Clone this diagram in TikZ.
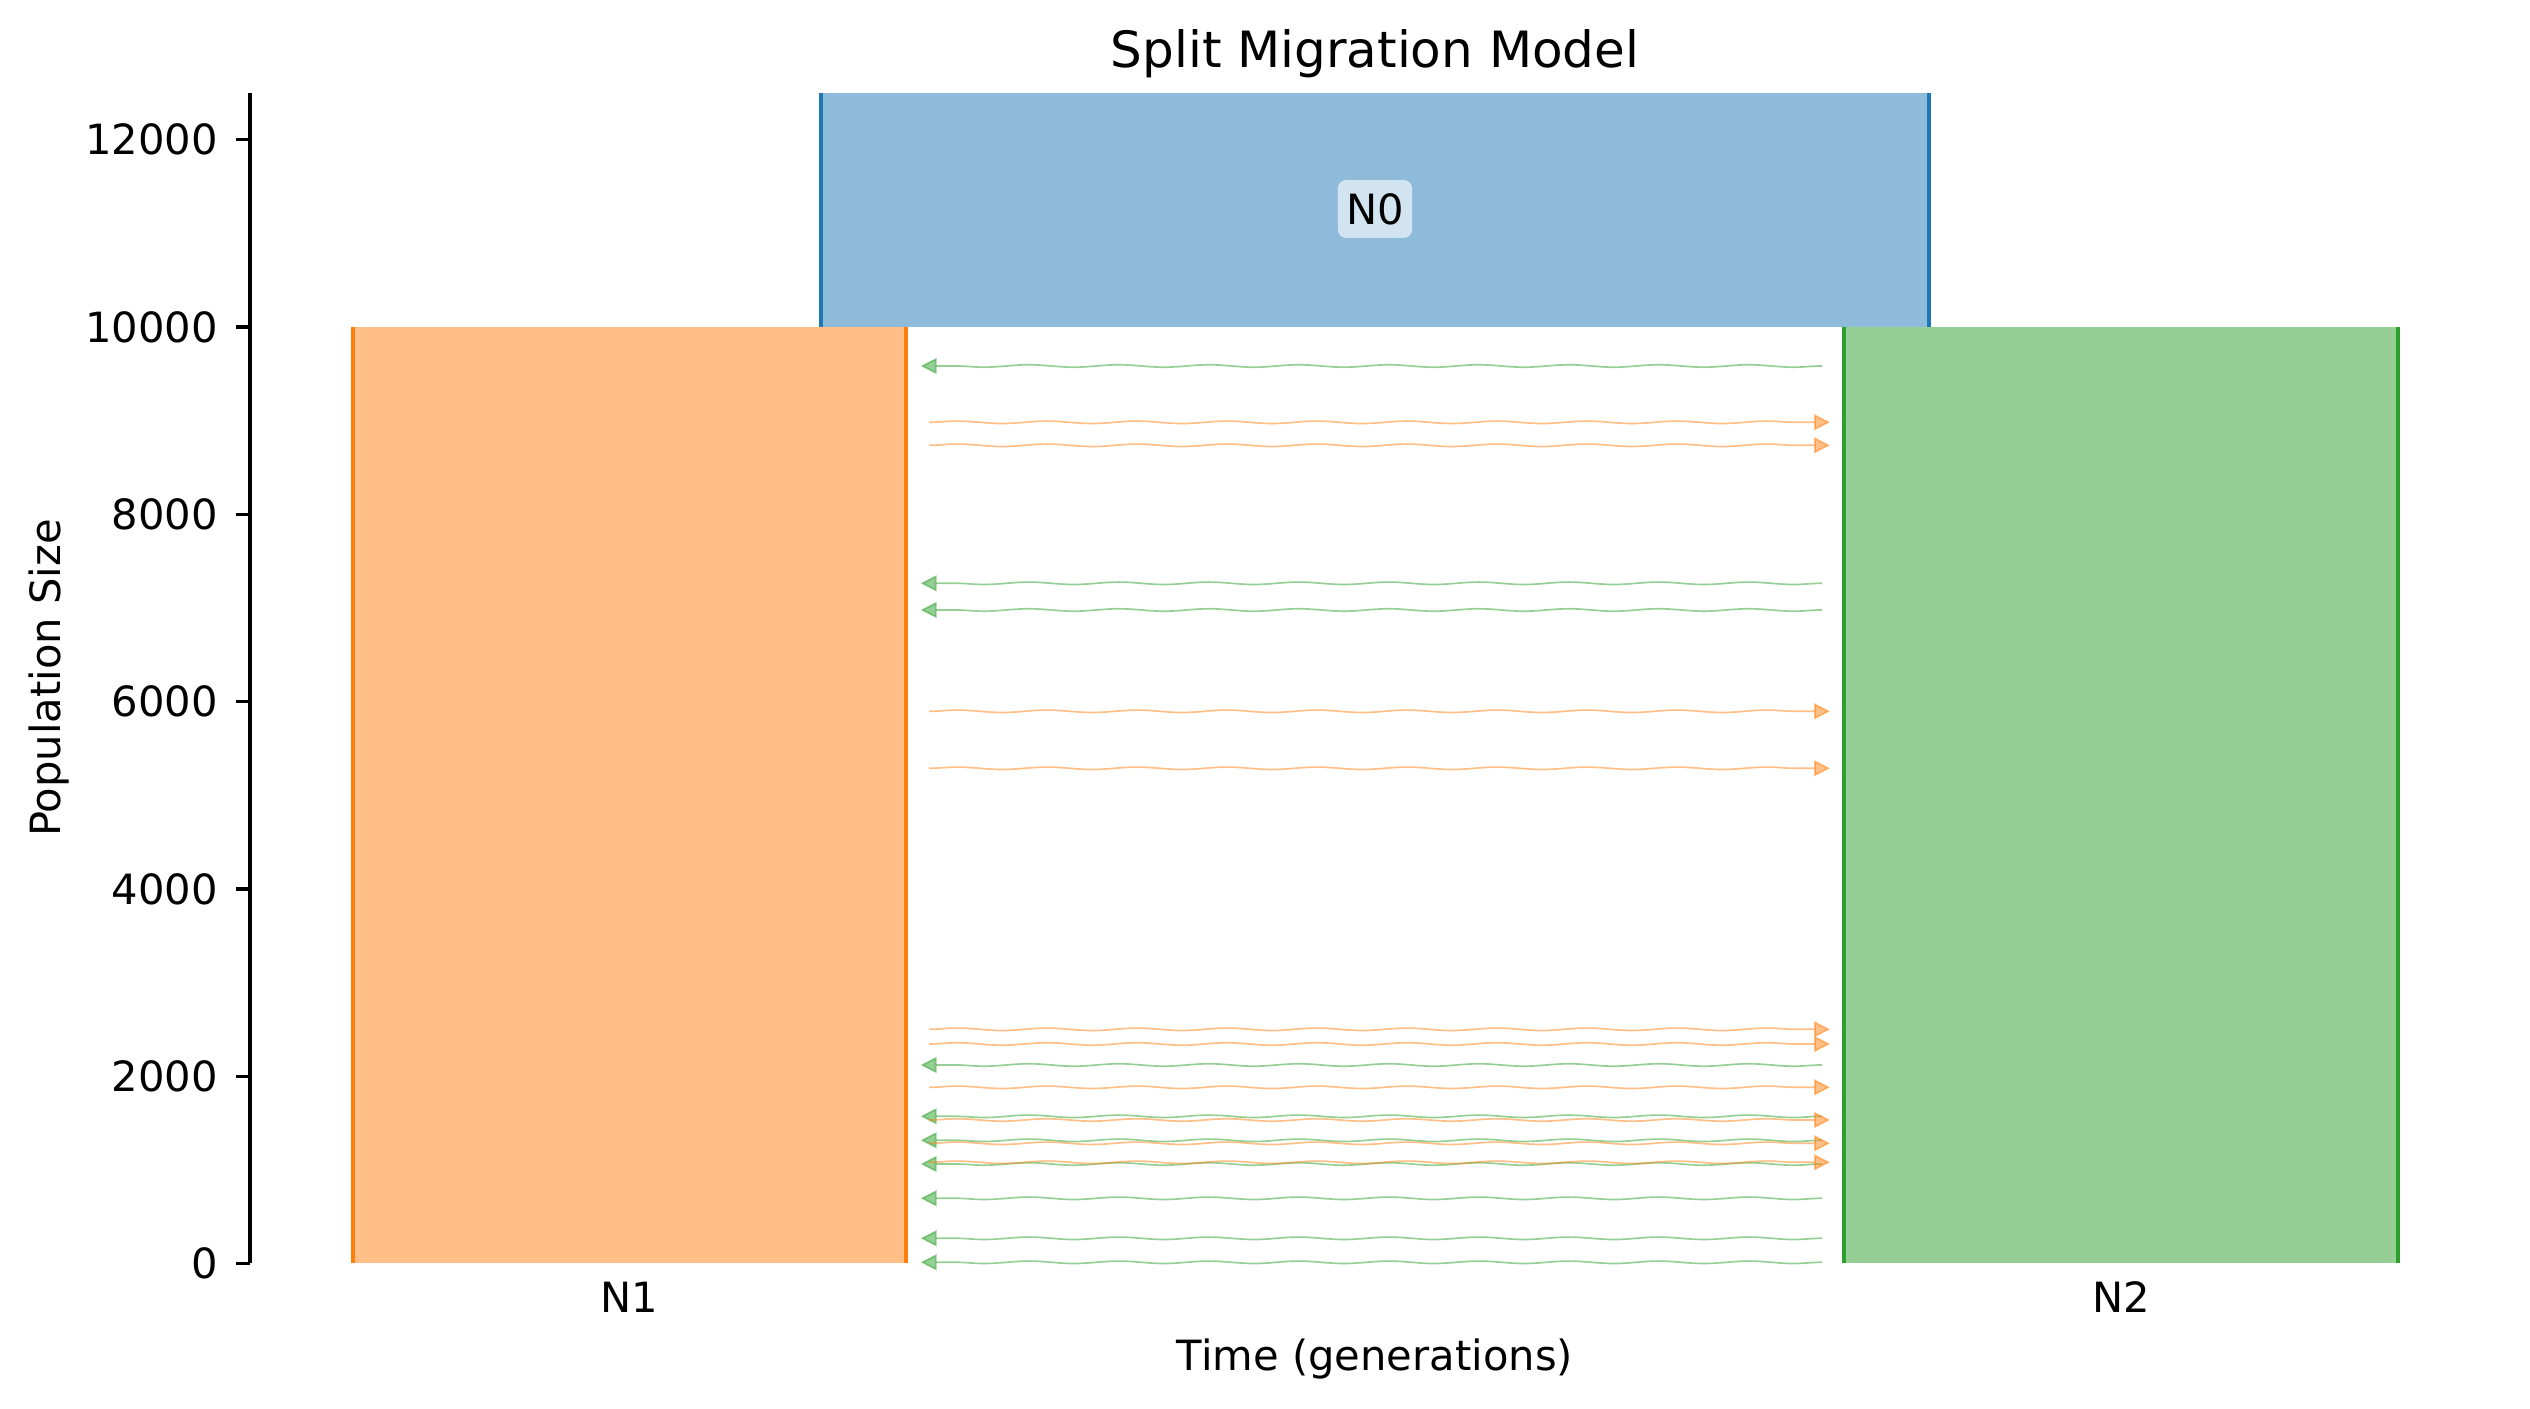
\documentclass[tikz,border=0pt]{standalone}
\usepackage{fontspec}
\setmainfont{DejaVu Sans}
\usetikzlibrary{arrows.meta,decorations.pathmorphing}
\definecolor{tabblue}{HTML}{1F77B4}
\definecolor{taborange}{HTML}{FF7F0E}
\definecolor{tabgreen}{HTML}{2CA02C}
\definecolor{fillblue}{RGB}{143,187,218}
\definecolor{fillorange}{RGB}{255,191,134}
\definecolor{fillgreen}{RGB}{149,207,149}
\definecolor{labelbox}{RGB}{210,228,240}
\begin{document}
\begin{tikzpicture}[x=0.24pt,y=-0.24pt,
  edgeline/.style={line width=1pt},
  axisline/.style={line width=0.8pt,black},
  mig/.style={line width=0.4pt, opacity=0.5, decorate,
    decoration={snake, amplitude=0.29pt, segment length=21.6pt, pre length=0pt, post length=4.5pt},
    -{Triangle[length=3.8pt,width=3.8pt]}},
  greenmig/.style={mig, tabgreen},
  orangemig/.style={mig, taborange},
  ticklabel/.style={anchor=east, inner sep=0pt, font=\fontsize{10}{12}\selectfont},
  txt/.style={inner sep=0pt, font=\fontsize{10}{12}\selectfont},
  poplabel/.style={txt, fill=labelbox, rounded corners=2pt, minimum width=17.8pt, minimum height=13.9pt}
]
\useasboundingbox (0,0) rectangle (2530,1409);

% population blocks
\coordinate (n0tl) at (821,92.9);  \coordinate (n0br) at (1929,327);
\coordinate (n1tl) at (353,327);   \coordinate (n1br) at (906,1263.5);
\coordinate (n2tl) at (1844,327);  \coordinate (n2br) at (2398,1263.5);
\fill[fillblue] (n0tl) rectangle (n0br);
\fill[fillorange] (n1tl) rectangle (n1br);
\fill[fillgreen] (n2tl) rectangle (n2br);
\draw[edgeline,tabblue] (n0tl) -- (n0tl |- n0br);
\draw[edgeline,tabblue] (n0br |- n0tl) -- (n0br);
\draw[edgeline,taborange] (n1tl) -- (n1tl |- n1br);
\draw[edgeline,taborange] (n1br |- n1tl) -- (n1br);
\draw[edgeline,tabgreen] (n2tl) -- (n2tl |- n2br);
\draw[edgeline,tabgreen] (n2br |- n2tl) -- (n2br);

% N0 label
\node[poplabel] (n0lab) at (1375,209) {N0};

% migration N2 -> N1 (green, leftwards)
\foreach \yy [count=\i] in {366,583.3,610,1065,1116.3,1140.3,1164,1198.3,1238.3,1262.3} {
  \coordinate (gs\i) at (1822,\yy);
  \coordinate (ge\i) at (920.7,\yy);
  \draw[greenmig] (gs\i) -- (ge\i);
}
% migration N1 -> N2 (orange, rightwards)
\foreach \yy [count=\i] in {422.3,445.3,711.3,768.3,1029.3,1044,1087.3,1120,1143.3,1162.3} {
  \coordinate (os\i) at (929,\yy);
  \coordinate (oe\i) at (1830,\yy);
  \draw[orangemig] (os\i) -- (oe\i);
}

% y axis
\coordinate (spinetop) at (250,92.9);
\coordinate (spinebot) at (250,1263.5);
\draw[axisline] (spinetop) -- (spinebot);
\foreach \v in {0,2000,4000,6000,8000,10000,12000} {
  \pgfmathsetmacro{\yy}{1263.5-0.09365*\v}
  \coordinate (tk\v) at (250,\yy);
  \draw[axisline] (tk\v) -- ++(-14.5,0);
  \node[ticklabel] (tl\v) at (218.5,\yy) {\v};
}

% x tick labels
\node[txt] (n1lab) at (629.5,1297) {N1};
\node[txt] (n2lab) at (2121,1297) {N2};

% axis labels and title
\node[txt] (xlab) at (1375,1359) {Time (generations)};
\node[txt, rotate=90] (ylab) at (49,678) {Population Size};
\node[inner sep=0pt, anchor=base, font=\fontsize{12}{14.4}\selectfont] (title) at (1375,68) {Split Migration Model};
\end{tikzpicture}
\end{document}
